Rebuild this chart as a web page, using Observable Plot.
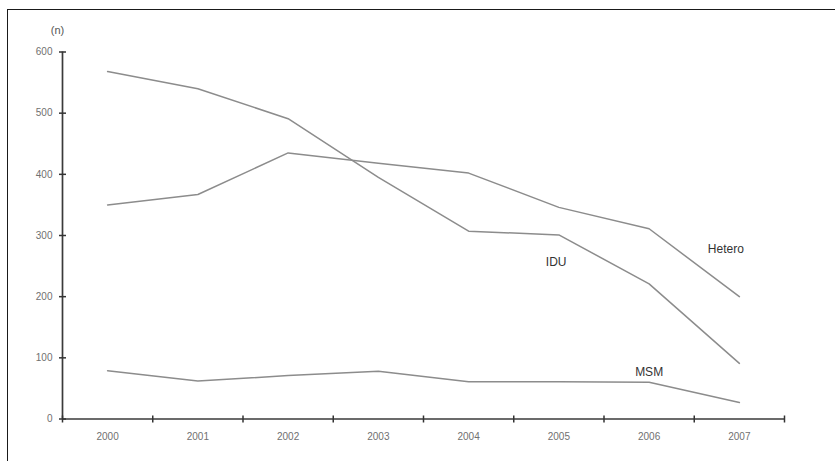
<!DOCTYPE html>
<html>
<head>
<meta charset="utf-8">
<script src="https://cdn.jsdelivr.net/npm/d3@7"></script>
<script src="https://cdn.jsdelivr.net/npm/@observablehq/plot@0.6"></script>
<style>
  html, body { margin: 0; padding: 0; background: #fff; overflow: hidden; }
  #wrap { position: relative; width: 835px; height: 461px; overflow: hidden; }
  #frame { position: absolute; left: 7px; top: 9px; width: 1200px; height: 900px; border: 1px solid #1a1a1a; box-sizing: border-box; pointer-events: none; }
  #chart svg { display: block; }
</style>
</head>
<body>
<div id="wrap"><div id="chart"></div><div id="frame"></div></div>
<script>
const years = [2000, 2001, 2002, 2003, 2004, 2005, 2006, 2007];
const idu    = [568, 540, 491, 395, 307, 301, 221, 91];
const hetero = [350, 367, 435, 418, 402, 346, 311, 200];
const msm    = [79, 62, 71, 78, 61, 61, 60, 27];
const yTicks = [0, 100, 200, 300, 400, 500, 600];
const seriesNames = ["IDU", "Hetero", "MSM"];
const labelYears  = [2004.97, 2006.85, 2006.0];
const labelValues = [256, 277, 76];
const yUnit = "(n)";

const rows = [];
[idu, hetero, msm].forEach((vals, s) => {
  years.forEach((y, i) => rows.push({series: seriesNames[s], year: y, value: vals[i]}));
});
const boundaries = d3.range(years[0] - 0.5, years[years.length - 1] + 1, 1);
const labels = seriesNames.map((n, i) => ({name: n, x: labelYears[i], y: labelValues[i]}));

const vline = {draw(ctx, size) { const r = Math.sqrt(size / Math.PI); ctx.moveTo(0, -r); ctx.lineTo(0, r); }};
const hline = {draw(ctx, size) { const r = Math.sqrt(size / Math.PI); ctx.moveTo(-r, 0); ctx.lineTo(r, 0); }};

const x0 = boundaries[0], x1 = boundaries[boundaries.length - 1];

const chart = Plot.plot({
  width: 835,
  height: 461,
  marginLeft: 62,
  marginRight: 51,
  marginTop: 51.5,
  marginBottom: 42.5,
  style: {fontFamily: "'Liberation Sans', Arial, sans-serif", background: "transparent"},
  x: {domain: [x0, x1], axis: null},
  y: {domain: [0, 600], axis: null},
  marks: [
    Plot.line(rows, {x: "year", y: "value", z: "series", stroke: "#8c8c8c", strokeWidth: 1.5, curve: "linear"}),
    Plot.ruleX([x0], {y1: 0, y2: 600, stroke: "#3a3a3a", strokeWidth: 1.7}),
    Plot.ruleY([0], {x1: x0, x2: x1, stroke: "#3a3a3a", strokeWidth: 1.7}),
    Plot.dot(boundaries, {x: d => d, y: 0, symbol: vline, r: 3.5, stroke: "#333", strokeWidth: 1.5, fill: "none"}),
    Plot.dot(yTicks, {x: x0, y: d => d, symbol: hline, r: 3.5, stroke: "#333", strokeWidth: 1.5, fill: "none"}),
    Plot.text(yTicks, {x: x0, y: d => d, text: d => String(d), textAnchor: "end", dx: -10, fontSize: 10, fill: "#707070"}),
    Plot.text(years, {x: d => d, y: 0, text: d => String(d), dy: 18, fontSize: 10, fill: "#707070"}),
    Plot.text([yUnit], {x: x0, y: 600, text: d => d, dy: -22, dx: -5, fontSize: 11, fill: "#555"}),
    Plot.text(labels, {x: "x", y: "y", text: "name", fontSize: 12, fill: "#333"})
  ]
});
document.getElementById("chart").appendChild(chart);
</script>
</body>
</html>
